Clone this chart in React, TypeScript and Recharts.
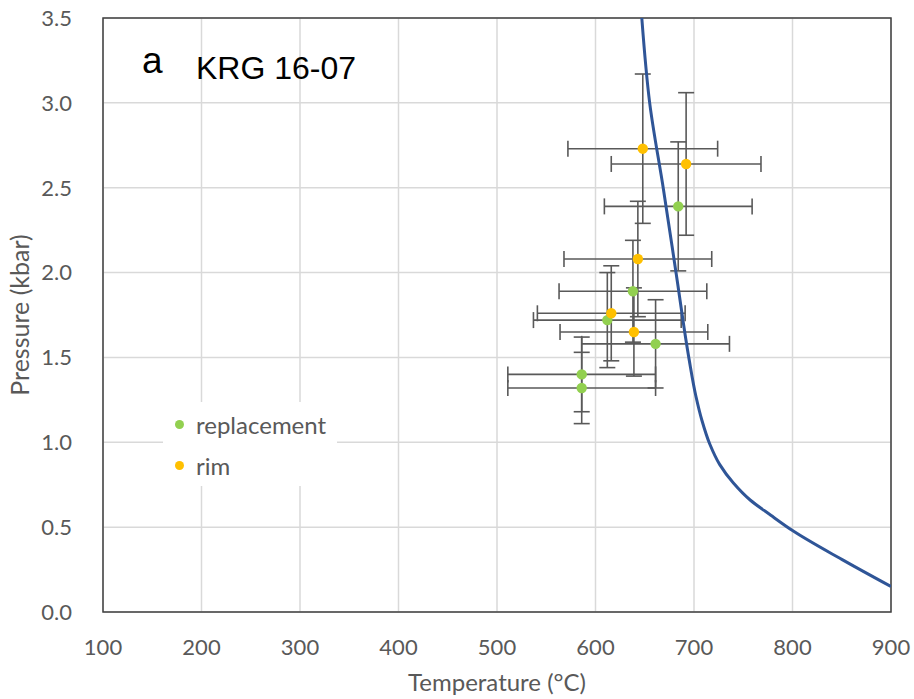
import React from 'react';
import {
  ComposedChart,
  Scatter,
  Line,
  XAxis,
  YAxis,
  ZAxis,
  CartesianGrid,
  ErrorBar,
  ReferenceArea,
  Legend,
  Label,
} from 'recharts';

// measured points (T in °C, P in kbar) with their error half-widths
const replacement = [
  { T: 684, P: 2.39, ex: 75, ey: 0.38 },
  { T: 638, P: 1.89, ex: 75, ey: 0.3 },
  { T: 612, P: 1.72, ex: 75, ey: 0.28 },
  { T: 661, P: 1.58, ex: 75, ey: 0.26 },
  { T: 586, P: 1.4, ex: 75, ey: 0.22 },
  { T: 586, P: 1.32, ex: 75, ey: 0.21 },
];

const rim = [
  { T: 648, P: 2.73, ex: 76, ey: 0.44 },
  { T: 692, P: 2.64, ex: 76, ey: 0.42 },
  { T: 643, P: 2.08, ex: 75, ey: 0.34 },
  { T: 616, P: 1.76, ex: 75, ey: 0.28 },
  { T: 639, P: 1.65, ex: 75, ey: 0.26 },
];

// blue reaction curve
const curve = [
  { T: 647, P: 3.5 },
  { T: 655, P: 3.0 },
  { T: 669, P: 2.49 },
  { T: 682, P: 1.99 },
  { T: 695, P: 1.49 },
  { T: 702, P: 1.27 },
  { T: 708, P: 1.13 },
  { T: 716, P: 0.99 },
  { T: 726, P: 0.87 },
  { T: 740, P: 0.76 },
  { T: 757, P: 0.66 },
  { T: 778, P: 0.57 },
  { T: 800, P: 0.48 },
  { T: 850, P: 0.31 },
  { T: 900, P: 0.15 },
];

const xTicks = [100, 200, 300, 400, 500, 600, 700, 800, 900];
const yTicks = [0, 0.5, 1, 1.5, 2, 2.5, 3, 3.5];

const GREEN = '#92D050';
const ORANGE = '#FFC000';
const GREY = '#595959';
const FONT = 'Lato, "Open Sans", sans-serif';

const legendItems = [
  { name: 'replacement', color: GREEN },
  { name: 'rim', color: ORANGE },
];

const LegendBox = () => (
  <div style={{ background: '#fff', padding: '2px 0 0 12px', fontFamily: FONT }}>
    {legendItems.map((it) => (
      <div key={it.name} style={{ display: 'flex', alignItems: 'center', height: 41 }}>
        <span
          style={{
            width: 9,
            height: 9,
            borderRadius: '50%',
            background: it.color,
            marginRight: 12,
            display: 'inline-block',
          }}
        />
        <span style={{ fontSize: 24, color: GREY }}>{it.name}</span>
      </div>
    ))}
  </div>
);

export default function App() {
  return (
    <div style={{ position: 'absolute', left: 0, top: 0, width: 914, height: 699, background: '#fff' }}>
      <ComposedChart
        width={914}
        height={699}
        margin={{ top: 18, right: 23, bottom: 0, left: 0 }}
        style={{ fontFamily: FONT }}
      >
        <CartesianGrid stroke="#d9d9d9" strokeWidth={1.5} />
        <XAxis
          type="number"
          dataKey="T"
          domain={[100, 900]}
          ticks={xTicks}
          allowDataOverflow
          height={87}
          axisLine={false}
          tickLine={false}
          tickSize={0}
          tickMargin={27}
          tick={{ fill: GREY, fontSize: 22 }}
        >
          <Label
            value="Temperature (°C)"
            position="insideBottom"
            offset={8}
            style={{ fill: GREY, fontSize: 24 }}
          />
        </XAxis>
        <YAxis
          type="number"
          dataKey="P"
          domain={[0, 3.5]}
          ticks={yTicks}
          allowDataOverflow
          width={103}
          axisLine={false}
          tickLine={false}
          tickSize={0}
          tickMargin={31}
          tickFormatter={(v: number) => v.toFixed(1)}
          tick={{ fill: GREY, fontSize: 22 }}
        >
          <Label
            value="Pressure (kbar)"
            angle={-90}
            position="insideLeft"
            offset={20}
            style={{ fill: GREY, fontSize: 25, textAnchor: 'middle' }}
          />
        </YAxis>
        <ZAxis range={[85, 85]} />
        <ReferenceArea x1={100} x2={900} y1={0} y2={3.5} fill="none" stroke="#404040" strokeWidth={1.5} />
        <Legend
          layout="vertical"
          align="center"
          verticalAlign="middle"
          content={() => <LegendBox />}
          wrapperStyle={{ left: 163, top: 402, width: 174, height: 84 }}
        />
        <Scatter name="replacement" data={replacement} fill={GREEN} isAnimationActive={false} shape="circle">
          <ErrorBar dataKey="ex" direction="x" width={8} stroke={GREY} strokeWidth={1.6} />
          <ErrorBar dataKey="ey" direction="y" width={8} stroke={GREY} strokeWidth={1.6} />
        </Scatter>
        <Scatter name="rim" data={rim} fill={ORANGE} isAnimationActive={false} shape="circle">
          <ErrorBar dataKey="ex" direction="x" width={8} stroke={GREY} strokeWidth={1.6} />
          <ErrorBar dataKey="ey" direction="y" width={8} stroke={GREY} strokeWidth={1.6} />
        </Scatter>
        <Line
          data={curve}
          dataKey="P"
          type="monotoneY"
          stroke="#2F5597"
          strokeWidth={3}
          dot={false}
          activeDot={false}
          legendType="none"
          isAnimationActive={false}
        />
      </ComposedChart>
      <svg
        width={914}
        height={699}
        style={{ position: 'absolute', left: 0, top: 0, pointerEvents: 'none' }}
      >
        <text x={142} y={73} fontFamily="'Liberation Sans', Arial, sans-serif" fontSize={37} fill="#000">
          a
        </text>
        <text x={196} y={79} fontFamily="'Liberation Sans', Arial, sans-serif" fontSize={32} fill="#000">
          KRG 16-07
        </text>
      </svg>
    </div>
  );
}
